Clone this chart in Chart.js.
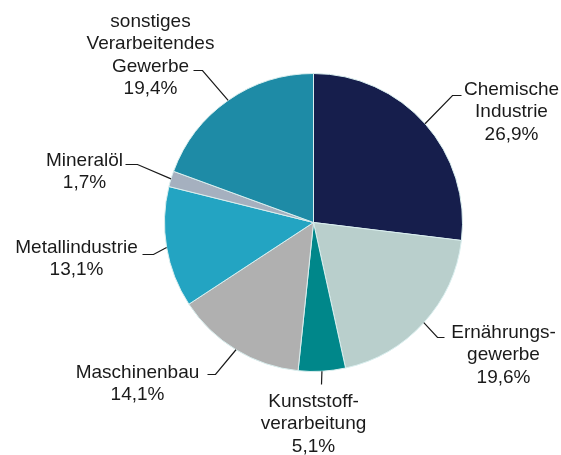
<!DOCTYPE html>
<html>
<head>
<meta charset="utf-8">
<script src="https://cdn.jsdelivr.net/npm/chart.js@4/dist/chart.umd.min.js"></script>
<style>
    html, body { margin: 0; padding: 0; background: #fff; }
    canvas { display: block; }
</style>
</head>
<body>
<canvas id="chartBranchen" width="561" height="455"></canvas>
<script>
// Datos: Anteile der Branchen (%)
const branchen = [
    ['Chemische', 'Industrie'],
    ['Ernährungs-', 'gewerbe'],
    ['Kunststoff-', 'verarbeitung'],
    ['Maschinenbau'],
    ['Metallindustrie'],
    ['Mineralöl'],
    ['sonstiges', 'Verarbeitendes', 'Gewerbe']
];
const anteile = [26.9, 19.6, 5.1, 14.1, 13.1, 1.7, 19.4];
const farben = ['#161e4c', '#b9cfcc', '#00878a', '#b0b0b0', '#23a4c2', '#a5b0bf', '#1e8ba6'];

// Posición de cada etiqueta respecto al centro del pastel
// text: centro de la primera línea, knick/ende: línea guía
const etiquetasLayout = [
    { text: [198, -133], knick: [139, -127], ende: [148, -127] },
    { text: [190, 110], knick: [124, 115], ende: [131, 115] },
    { text: [0, 179], knick: [8, 162], ende: [8, 162] },
    { text: [-176, 150], knick: [-98, 152], ende: [-106, 152] },
    { text: [-237, 25], knick: [-160, 32], ende: [-171, 32] },
    { text: [-229, -62], knick: [-176, -58], ende: [-188, -58] },
    { text: [-163, -201], knick: [-111, -152], ende: [-120, -152] }
];

const FONT = '19px "Liberation Sans", Arial, Helvetica, sans-serif';
const ZEILE = 22.5;

const etiquetasPlugin = {
    id: 'etiquetas',
    afterDatasetsDraw(chart) {
        const ctx = chart.ctx;
        const meta = chart.getDatasetMeta(0);
        ctx.save();
        ctx.font = FONT;
        ctx.fillStyle = '#1a1a1a';
        ctx.strokeStyle = '#1a1a1a';
        ctx.lineWidth = 1.2;
        ctx.textAlign = 'center';
        ctx.textBaseline = 'middle';
        meta.data.forEach((arc, i) => {
            const lay = etiquetasLayout[i];
            const cx = arc.x, cy = arc.y;
            const mitte = (arc.startAngle + arc.endAngle) / 2;
            const r = arc.outerRadius;
            // línea guía desde el borde del sector
            ctx.beginPath();
            ctx.moveTo(cx + Math.cos(mitte) * r, cy + Math.sin(mitte) * r);
            ctx.lineTo(cx + lay.knick[0], cy + lay.knick[1]);
            ctx.lineTo(cx + lay.ende[0], cy + lay.ende[1]);
            ctx.stroke();
            // texto
            const zeilen = branchen[i].concat([anteile[i].toFixed(1).replace('.', ',') + '%']);
            zeilen.forEach((z, k) => {
                ctx.fillText(z, cx + lay.text[0], cy + lay.text[1] + k * ZEILE);
            });
        });
        ctx.restore();
    }
};

const ctx = document.getElementById('chartBranchen').getContext('2d');
new Chart(ctx, {
    type: 'pie',
    data: {
        labels: branchen.map(b => b.join(' ')),
        datasets: [{
            data: anteile,
            backgroundColor: farben,
            borderColor: '#d9eeee',
            borderWidth: 1
        }]
    },
    options: {
        responsive: false,
        animation: false,
        layout: {
            padding: { left: 164, right: 98, top: 73, bottom: 83 }
        },
        plugins: {
            legend: { display: false },
            tooltip: { enabled: false }
        }
    },
    plugins: [etiquetasPlugin]
});
</script>
</body>
</html>
